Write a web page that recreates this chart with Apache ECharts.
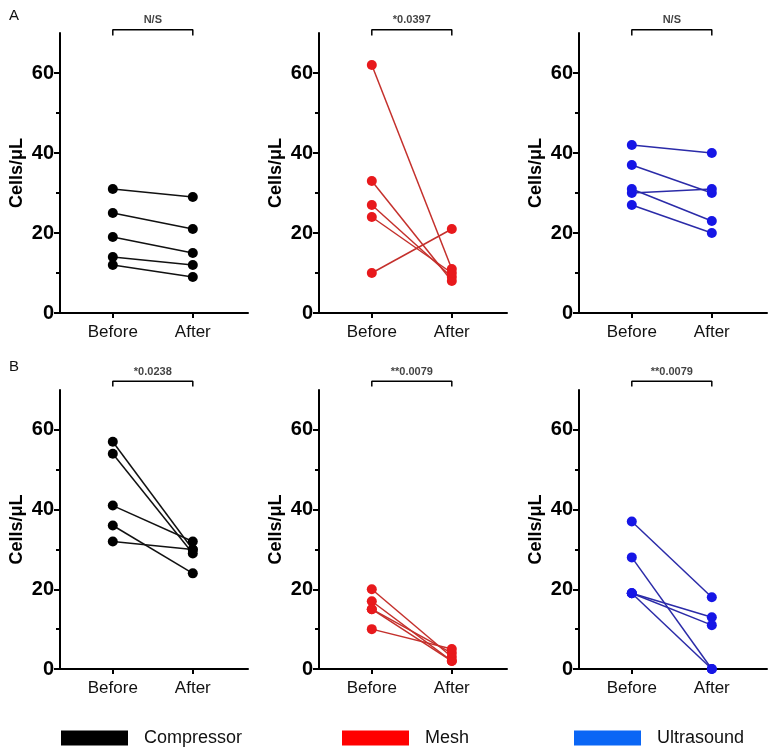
<!DOCTYPE html>
<html><head><meta charset="utf-8">
<script src="https://cdn.jsdelivr.net/npm/echarts@6/dist/echarts.min.js"></script>
<style>html,body{margin:0;padding:0;background:#fff}#c{width:771px;height:753px}</style>
</head><body><div id="c"></div>
<script>
// ---- data ----
const categories = ['Before', 'After'];
const groups = ['Compressor', 'Mesh', 'Ultrasound'];
const yTicks = [0, 20, 40, 60];
const yMinorTicks = [10, 30, 50];
const pLabelsA = ['N/S', '*0.0397', 'N/S'];
const pLabelsB = ['*0.0238', '**0.0079', '**0.0079'];

const compA_before = [31, 25, 19, 14, 12];
const compA_after  = [29, 21, 15, 12, 9];
const meshA_before = [62, 33, 27, 24, 10];
const meshA_after  = [11, 8, 9, 10, 21];
const usA_before   = [42, 37, 30, 31, 27];
const usA_after    = [40, 30, 31, 23, 20];

const compB_before = [57, 54, 41, 36, 32];
const compB_after  = [30, 29, 32, 24, 30];
const meshB_before = [20, 17, 15, 15, 10];
const meshB_after  = [3, 2, 2, 4, 5];
const usB_before   = [37, 28, 19, 19, 19];
const usB_after    = [18, 0, 13, 11, 0];

// ---- styling ----
const FONT = '"Liberation Sans", Arial, sans-serif';
const markerColors = ['#000000', '#e8191c', '#1616e6'];
const lineColors = ['#111111', '#c4302c', '#2b2ba8'];
const legendColors = ['#000000', '#ff0000', '#0a66f5'];

const panels = [
  { before: compA_before, after: compA_after, g: 0, row: 0, col: 0, p: pLabelsA[0] },
  { before: meshA_before, after: meshA_after, g: 1, row: 0, col: 1, p: pLabelsA[1] },
  { before: usA_before,   after: usA_after,   g: 2, row: 0, col: 2, p: pLabelsA[2] },
  { before: compB_before, after: compB_after, g: 0, row: 1, col: 0, p: pLabelsB[0] },
  { before: meshB_before, after: meshB_after, g: 1, row: 1, col: 1, p: pLabelsB[1] },
  { before: usB_before,   after: usB_after,   g: 2, row: 1, col: 2, p: pLabelsB[2] },
];
const lefts = [60, 319, 579];
const tops = [33, 390];
const heights = [280, 279];
const bracketLevels = [[69.4, 70.8], [70.9, 72.2]];

const grid = [], xAxis = [], yAxis = [], series = [];
panels.forEach((pn, i) => {
  grid.push({ left: lefts[pn.col], top: tops[pn.row], width: 188, height: heights[pn.row] });
  xAxis.push({
    type: 'value', gridIndex: i, min: 0.34, max: 2.69,
    splitLine: { show: false },
    axisLine: { show: true, onZero: false, lineStyle: { color: '#000', width: 2 } },
    axisTick: { show: true, customValues: [1, 2], length: 5, lineStyle: { color: '#000', width: 2 } },
    axisLabel: { show: true, customValues: [1, 2], formatter: v => categories[Math.round(v) - 1],
      color: '#111', fontFamily: FONT, fontSize: 17, margin: 11 }
  });
  yAxis.push({
    type: 'value', gridIndex: i, min: 0, max: 70, position: 'left',
    splitLine: { show: false },
    axisLine: { show: true, lineStyle: { color: '#000', width: 2 } },
    axisTick: { show: true, customValues: yTicks, length: 6, lineStyle: { color: '#000', width: 2 } },
    axisLabel: { show: true, customValues: yTicks, color: '#000', fontFamily: FONT, fontSize: 20, fontWeight: 'bold', margin: 6 },
    name: 'Cells/\u03bcL', nameLocation: 'middle', nameGap: 34,
    nameTextStyle: { color: '#000', fontFamily: FONT, fontSize: 18, fontWeight: 'bold' }
  });
  yAxis.push({
    type: 'value', gridIndex: i, min: 0, max: 70, position: 'left', offset: 0,
    splitLine: { show: false },
    axisLine: { show: false },
    axisTick: { show: true, customValues: yMinorTicks, length: 4, lineStyle: { color: '#000', width: 2 } },
    axisLabel: { show: false }
  });
  pn.before.forEach((b, k) => {
    series.push({
      type: 'line', name: groups[pn.g], xAxisIndex: i, yAxisIndex: 2 * i,
      data: [[1, b], [2, pn.after[k]]],
      symbol: 'circle', symbolSize: 10, showSymbol: true,
      itemStyle: { color: markerColors[pn.g] },
      lineStyle: { color: lineColors[pn.g], width: 1.5 },
      emphasis: { disabled: true }, silent: true, animation: false
    });
  });
  const [lo, hi] = bracketLevels[pn.row];
  series.push({
    type: 'line', xAxisIndex: i, yAxisIndex: 2 * i, clip: false,
    data: [[1, lo], [1, hi], [2, hi], [2, lo]],
    symbol: 'none', lineStyle: { color: '#000', width: 1.5 }, silent: true, animation: false
  });
  series.push({
    type: 'scatter', xAxisIndex: i, yAxisIndex: 2 * i, clip: false,
    data: [[1.5, hi]], symbolSize: 0,
    label: { show: true, position: 'top', distance: 4, formatter: pn.p,
      color: '#111', fontFamily: FONT, fontSize: 11, fontWeight: 'bold' },
    silent: true, animation: false
  });
});

const legendLefts = [61, 342, 574];
const legend = groups.map((g, i) => ({
  left: legendLefts[i], top: 729, padding: 0, icon: 'rect', itemWidth: 67, itemHeight: 15,
  selectedMode: false,
  data: [{ name: g, itemStyle: { color: legendColors[i] }, lineStyle: { color: legendColors[i] } }],
  textStyle: { color: '#111', fontFamily: FONT, fontSize: 18, padding: [0, 0, 0, 11] }
}));

const chart = echarts.init(document.getElementById('c'), null, { renderer: 'canvas' });
chart.setOption({
  backgroundColor: '#fff',
  animation: false,
  title: [
    { text: 'A', left: 4, top: 3, textStyle: { fontFamily: FONT, fontSize: 15, fontWeight: 'normal', color: '#111' } },
    { text: 'B', left: 4, top: 354, textStyle: { fontFamily: FONT, fontSize: 15, fontWeight: 'normal', color: '#111' } }
  ],
  grid, xAxis, yAxis, series, legend
});
</script>
</body></html>
